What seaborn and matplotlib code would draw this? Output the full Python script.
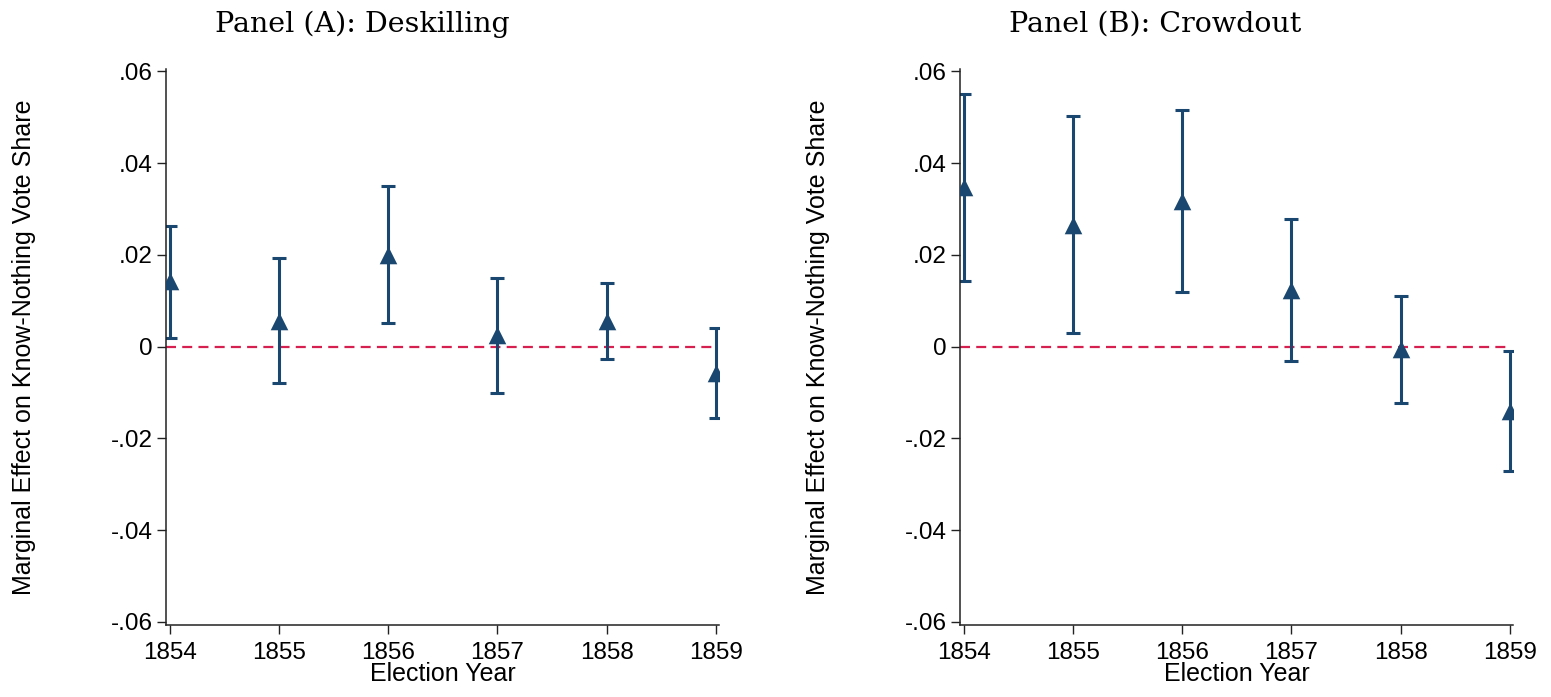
import numpy as np
import pandas as pd
import matplotlib
matplotlib.use("Agg")
import matplotlib.pyplot as plt
import seaborn as sns

years = [1854, 1855, 1856, 1857, 1858, 1859]

deskill_est = [0.0142, 0.0056, 0.0200, 0.0025, 0.0055, -0.0058]
deskill_lo = [0.0018, -0.0080, 0.0052, -0.0101, -0.0028, -0.0155]
deskill_hi = [0.0262, 0.0192, 0.0349, 0.0150, 0.0138, 0.0040]

crowd_est = [0.0347, 0.0266, 0.0317, 0.0124, -0.0006, -0.0141]
crowd_lo = [0.0142, 0.0030, 0.0118, -0.0032, -0.0122, -0.0272]
crowd_hi = [0.0551, 0.0502, 0.0515, 0.0279, 0.0110, -0.0010]

panel_titles = ["Panel (A): Deskilling", "Panel (B): Crowdout"]
ytick_vals = [-0.06, -0.04, -0.02, 0.0, 0.02, 0.04, 0.06]
ytick_labels = ["-.06", "-.04", "-.02", "0", ".02", ".04", ".06"]
xlabel = "Election Year"
ylabel = "Marginal Effect on Know-Nothing Vote Share"

sns.set_theme(style="white")
plt.rcParams['font.family'] = ['Liberation Sans', 'DejaVu Sans']
plt.rcParams['text.color'] = 'black'
plt.rcParams['axes.labelcolor'] = 'black'
plt.rcParams['xtick.color'] = 'black'
plt.rcParams['ytick.color'] = 'black'

navy = "#1a476f"
red = "#d6204f"

W, H = 1551, 697
fig = plt.figure(figsize=(W / 100, H / 100), dpi=100)
ax_w = 553 / W
ax_b = 1 - 625 / H
ax_h = (625 - 69) / H
axA = fig.add_axes([166 / W, ax_b, ax_w, ax_h])
axB = fig.add_axes([960 / W, ax_b, ax_w, ax_h])

panels = [(axA, deskill_est, deskill_lo, deskill_hi, 362),
          (axB, crowd_est, crowd_lo, crowd_hi, 1155)]

for (ax, est, lo, hi, tx), title in zip(panels, panel_titles):
    df = pd.DataFrame({"year": years, "est": est, "lo": lo, "hi": hi})
    ax.hlines(0, 1853.96, 1859, colors=red, linestyles=(0, (4.5, 2.8)), linewidth=1.6, zorder=1)
    ax.errorbar(df["year"], df["est"],
                yerr=[df["est"] - df["lo"], df["hi"] - df["est"]],
                fmt="none", ecolor=navy, elinewidth=2.2, capsize=5, capthick=2.2, zorder=2)
    sns.scatterplot(data=df, x="year", y="est", marker="^", s=160, color=navy,
                    edgecolor=navy, linewidth=0, ax=ax, zorder=3)
    ax.set_xlim(1853.963, 1859.03)
    ax.set_ylim(-0.0607, 0.0605)
    ax.set_xticks(years)
    ax.set_xticklabels([str(y) for y in years])
    ax.set_yticks(ytick_vals)
    ax.set_yticklabels(ytick_labels)
    ax.set_xlabel(xlabel, fontsize=18, labelpad=-1.5)
    ax.set_ylabel(ylabel, fontsize=18)
    ax.yaxis.set_label_coords(-0.235, 0.5)
    ax.tick_params(axis="both", labelsize=17.5, direction="out", length=6.5, width=1,
                   color="#222222", left=True, bottom=True)
    ax.tick_params(axis="x", pad=5.5)
    ax.tick_params(axis="y", pad=3)
    for side in ["top", "right"]:
        ax.spines[side].set_visible(False)
    for side in ["left", "bottom"]:
        ax.spines[side].set_color("#222222")
        ax.spines[side].set_linewidth(1.1)
    fig.text(tx / W, 1 - 32 / H, title, fontsize=20.5, family=["DejaVu Serif"],
             ha="center", va="baseline", color="black")

fig.savefig("out.png", dpi=100, facecolor="white")
